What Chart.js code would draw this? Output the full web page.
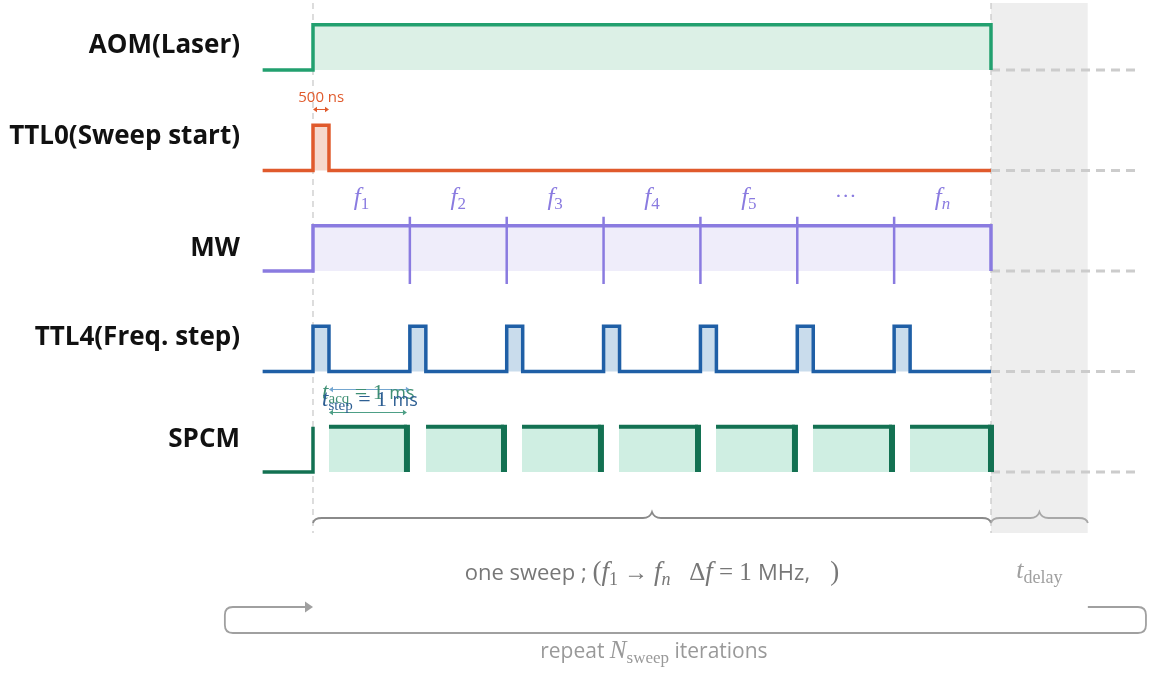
<!DOCTYPE html>
<html>
<head>
<meta charset="utf-8">
<script src="https://cdn.jsdelivr.net/npm/chart.js@4.4.1/dist/chart.umd.min.js"></script>
<style>
html, body { margin: 0; padding: 0; background: #fff; }
#wrap { width: 1150px; height: 673px; }
</style>
</head>
<body>
<div id="wrap"><canvas id="timing" width="1150" height="673"></canvas></div>
<script>
// channels, top to bottom
const channels = ['AOM(Laser)', 'TTL0(Sweep start)', 'MW', 'TTL4(Freq. step)', 'SPCM'];
const lineColors = ['#22a06f', '#e05a2c', '#8a7be0', '#1f5fa6', '#137152'];
const fillColors = ['#dcf0e6', '#f6d8cc', '#efedfa', '#c9dcec', '#cfeee2'];

// time in ms (one frequency step = 1 ms), level 0 = low, 1 = high
const aomTime  = [-0.52, 0, 0, 7, 7];
const aomLevel = [0, 0, 1, 1, 0];
const ttl0Time  = [-0.52, 0, 0, 0.165, 0.165, 7];
const ttl0Level = [0, 0, 1, 1, 0, 0];
const mwTime  = [-0.52, 0, 0, 7, 7];
const mwLevel = [0, 0, 1, 1, 0];
const mwSteps = [1, 2, 3, 4, 5, 6];
const freqSub = ['1', '2', '3', '4', '5', '', 'n'];
const ttl4Time = [-0.52,
  0, 0, 0.165, 0.165,
  1, 1, 1.165, 1.165,
  2, 2, 2.165, 2.165,
  3, 3, 3.165, 3.165,
  4, 4, 4.165, 4.165,
  5, 5, 5.165, 5.165,
  6, 6, 6.165, 6.165,
  7];
const ttl4Level = [0,
  0, 1, 1, 0,
  0, 1, 1, 0,
  0, 1, 1, 0,
  0, 1, 1, 0,
  0, 1, 1, 0,
  0, 1, 1, 0,
  0, 1, 1, 0,
  0];
const spcmLeadTime  = [-0.52, 0, 0];
const spcmLeadLevel = [0, 0, 1];
const spcmGateOn  = [0.165, 1.167, 2.158, 3.159, 4.161, 5.162, 6.164];
const spcmGateOff = [0.970, 1.972, 2.973, 3.975, 4.976, 5.978, 7.0];
const sweepEnd = 7;
const delayEnd = 8;
const idleEnd = 8.54;

const HIGH = 0.45;
const base = i => -i;
const wave = (times, levels, row) => times.map((t, k) => ({ x: t, y: base(row) + levels[k] * HIGH }));

const SANS = '"Open Sans", sans-serif';
const SERIF = '"Liberation Serif", serif';

const datasets = [];
const line = (data, color, width, order, extra) => Object.assign({
  data: data, borderColor: color, borderWidth: width, pointRadius: 0,
  fill: false, tension: 0, order: order, borderJoinStyle: 'miter', borderCapStyle: 'butt'
}, extra || {});

// delay region and guides
const guideTop = 0.667, guideBottom = -4.607;
datasets.push(line([{ x: sweepEnd, y: guideTop }, { x: delayEnd, y: guideTop }], 'rgba(0,0,0,0)', 0, 20,
  { fill: { value: guideBottom }, backgroundColor: '#eeeeee' }));
[0, sweepEnd].forEach(t => {
  datasets.push(line([{ x: t, y: guideTop }, { x: t, y: guideBottom }], '#c6c6c6', 1.2, 19, { borderDash: [6, 5] }));
});
channels.forEach((c, i) => {
  datasets.push(line([{ x: sweepEnd, y: base(i) }, { x: idleEnd, y: base(i) }], '#cccccc', 3, 18, { borderDash: [9, 6] }));
});

// signals
const waves = [[aomTime, aomLevel], [ttl0Time, ttl0Level], [mwTime, mwLevel], [ttl4Time, ttl4Level]];
waves.forEach((w, i) => {
  datasets.push(line(wave(w[0], w[1], i), lineColors[i], 3.5, 2,
    { fill: { value: base(i) }, backgroundColor: fillColors[i] }));
});
mwSteps.forEach(t => {
  datasets.push(line([{ x: t, y: base(2) + 0.54 }, { x: t, y: base(2) - 0.13 }], lineColors[2], 2.5, 1));
});
datasets.push(line(wave(spcmLeadTime, spcmLeadLevel, 4), lineColors[4], 3.5, 2));
spcmGateOn.forEach((t, k) => {
  datasets.push(line([{ x: t, y: base(4) + HIGH }, { x: spcmGateOff[k], y: base(4) + HIGH }], lineColors[4], 4, 2,
    { fill: { value: base(4) }, backgroundColor: fillColors[4] }));
  datasets.push(line([{ x: spcmGateOff[k], y: base(4) + HIGH + 0.02 }, { x: spcmGateOff[k], y: base(4) }], lineColors[4], 6, 1));
});

function runs(ctx, parts, x, y, align) {
  let w = 0;
  parts.forEach(p => { ctx.font = p[1]; w += ctx.measureText(p[0]).width; });
  let cx = align === 'center' ? x - w / 2 : align === 'right' ? x - w : x;
  ctx.textAlign = 'left';
  ctx.textBaseline = 'alphabetic';
  parts.forEach(p => {
    ctx.font = p[1];
    ctx.fillText(p[0], cx, y + (p[2] || 0));
    cx += ctx.measureText(p[0]).width;
  });
}

function arrowHead(ctx, x, y, dir, s) {
  ctx.beginPath();
  ctx.moveTo(x, y);
  ctx.lineTo(x - dir * s, y - s * 0.7);
  ctx.lineTo(x - dir * s, y + s * 0.7);
  ctx.closePath();
  ctx.fill();
}

function doubleArrow(ctx, x1, x2, y, color, w) {
  ctx.strokeStyle = color; ctx.fillStyle = color; ctx.lineWidth = w;
  ctx.beginPath(); ctx.moveTo(x1 + 3, y); ctx.lineTo(x2 - 3, y); ctx.stroke();
  arrowHead(ctx, x1, y, -1, 4);
  arrowHead(ctx, x2, y, 1, 4);
}

function brace(ctx, x1, x2, y, color) {
  const xm = (x1 + x2) / 2;
  ctx.strokeStyle = color; ctx.lineWidth = 1.8;
  ctx.beginPath();
  ctx.moveTo(x1, y + 5);
  ctx.quadraticCurveTo(x1 + 1, y, x1 + 9, y);
  ctx.lineTo(xm - 9, y);
  ctx.quadraticCurveTo(xm - 2, y, xm, y - 6);
  ctx.quadraticCurveTo(xm + 2, y, xm + 9, y);
  ctx.lineTo(x2 - 9, y);
  ctx.quadraticCurveTo(x2 - 1, y, x2, y + 5);
  ctx.stroke();
}

const annotate = {
  id: 'annotate',
  afterDatasetsDraw(chart) {
    const ctx = chart.ctx;
    const X = v => chart.scales.x.getPixelForValue(v);
    const Y = v => chart.scales.y.getPixelForValue(v);
    ctx.save();

    // channel names
    const lift = [24, 34, 22, 34, 32];
    ctx.fillStyle = '#111';
    ctx.font = 'bold 26px ' + SANS;
    ctx.textAlign = 'right';
    ctx.textBaseline = 'middle';
    channels.forEach((c, i) => ctx.fillText(c, 240, Y(base(i)) - lift[i]));

    // frequency labels
    ctx.fillStyle = lineColors[2];
    const fy = Y(base(2)) - 66;
    freqSub.forEach((s, k) => {
      const cx = X(k + 0.5);
      if (s === '') {
        ctx.font = '22px ' + SERIF;
        ctx.textAlign = 'center'; ctx.textBaseline = 'alphabetic';
        ctx.fillText('\u00b7\u00b7\u00b7', cx, fy - 2);
      } else {
        runs(ctx, [['f', 'italic 25px ' + SERIF], [s, (s === 'n' ? 'italic ' : '') + '17px ' + SERIF, 4]], cx, fy, 'center');
      }
    });

    // 500 ns
    ctx.fillStyle = lineColors[1];
    ctx.font = '15px ' + SANS;
    ctx.textAlign = 'center'; ctx.textBaseline = 'alphabetic';
    ctx.fillText('500 ns', X(0.085), Y(base(1)) - 68);
    doubleArrow(ctx, X(0), X(0.165), Y(base(1)) - 61, lineColors[1], 1);

    // acquisition / step
    doubleArrow(ctx, X(0.165), X(1), Y(base(3)) + 18, '#74a6d0', 1.2);
    doubleArrow(ctx, X(0.165), X(0.97), Y(base(3)) + 41, '#4d9f86', 1.2);
    ctx.fillStyle = '#3f8f74';
    runs(ctx, [['t', 'italic 23px ' + SERIF], ['acq', '15px ' + SERIF, 4], [' = 1 ', '22px ' + SERIF], ['ms', '18px ' + SANS]], X(0.094), Y(base(3)) + 28, 'left');
    ctx.fillStyle = '#2e5f93';
    runs(ctx, [['t', 'italic 23px ' + SERIF], ['step', '15px ' + SERIF, 4], [' = 1 ', '22px ' + SERIF], ['ms', '18px ' + SANS]], X(0.094), Y(base(3)) + 35, 'left');

    // braces and captions
    const by = Y(base(4)) + 46;
    brace(ctx, X(0), X(sweepEnd), by, '#8a8a8a');
    brace(ctx, X(sweepEnd), X(delayEnd), by, '#a8a8a8');
    ctx.fillStyle = '#777';
    const ty = Y(base(4)) + 108;
    runs(ctx, [
      ['one sweep ; ', '22px ' + SANS],
      ['(', '27px ' + SERIF],
      ['f', 'italic 27px ' + SERIF], ['1', '18px ' + SERIF, 5],
      [' \u2192 ', '24px ' + SERIF],
      ['f', 'italic 27px ' + SERIF], ['n', 'italic 18px ' + SERIF, 5],
      ['   \u0394', '25px ' + SERIF], ['f', 'italic 27px ' + SERIF],
      [' = 1 ', '25px ' + SERIF], ['MHz,', '22px ' + SANS], ['   )', '27px ' + SERIF]
    ], X(3.5), ty, 'center');
    ctx.fillStyle = '#a0a0a0';
    runs(ctx, [['t', 'italic 26px ' + SERIF], ['delay', '18px ' + SERIF, 5]], X((sweepEnd + delayEnd) / 2), ty - 2, 'center');

    // repeat loop
    const ly1 = Y(base(4)) + 135, ly2 = Y(base(4)) + 161, lx1 = X(-0.91), lx2 = X(8.6), r = 8;
    ctx.strokeStyle = '#a0a0a0'; ctx.fillStyle = '#a0a0a0'; ctx.lineWidth = 1.8;
    ctx.beginPath();
    ctx.moveTo(X(delayEnd), ly1);
    ctx.lineTo(lx2 - r, ly1);
    ctx.quadraticCurveTo(lx2, ly1, lx2, ly1 + r);
    ctx.lineTo(lx2, ly2 - r);
    ctx.quadraticCurveTo(lx2, ly2, lx2 - r, ly2);
    ctx.lineTo(lx1 + r, ly2);
    ctx.quadraticCurveTo(lx1, ly2, lx1, ly2 - r);
    ctx.lineTo(lx1, ly1 + r);
    ctx.quadraticCurveTo(lx1, ly1, lx1 + r, ly1);
    ctx.lineTo(X(0) - 6, ly1);
    ctx.stroke();
    arrowHead(ctx, X(0), ly1, 1, 8);
    ctx.fillStyle = '#999';
    runs(ctx, [['repeat ', '21px ' + SANS], ['N', 'italic 25px ' + SERIF], ['sweep', '17px ' + SERIF, 5], [' iterations', '21px ' + SANS]], X(3.52), Y(base(4)) + 186, 'center');

    ctx.restore();
  }
};

new Chart(document.getElementById('timing'), {
  type: 'line',
  data: { datasets: datasets },
  options: {
    responsive: false,
    animation: false,
    layout: { padding: 0 },
    scales: {
      x: { type: 'linear', min: -3.2316, max: 8.6417, display: false },
      y: { type: 'linear', min: -6.0, max: 0.6965, display: false }
    },
    plugins: { legend: { display: false }, tooltip: { enabled: false } }
  },
  plugins: [annotate]
});
</script>
</body>
</html>
